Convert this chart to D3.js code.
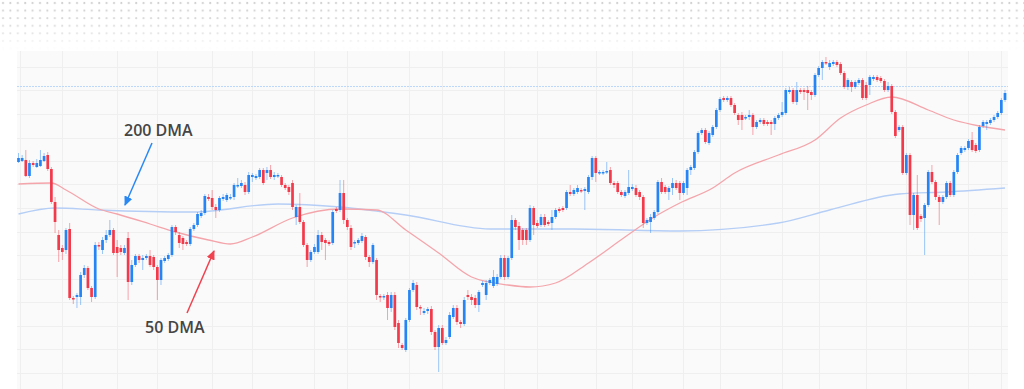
<!DOCTYPE html>
<html>
<head>
<meta charset="utf-8">
<script src="https://cdn.jsdelivr.net/npm/d3@7/dist/d3.min.js"></script>
<style>
  html, body { margin: 0; padding: 0; background: #fff; }
  svg { display: block; }
  .label { font-family: "Open Sans", Lato, sans-serif; font-size: 16px; font-weight: 600; fill: #454545; }
</style>
</head>
<body>
<div id="chart"></div>
<script>
// Candles: [open, high, low, close]
const candles = [
  [238,247,237,242],[239,245,238,242],[240,250,223,224],[224,240,222,237],[237,239,233,235],
  [233,241,232,237],[234,250,233,240],[239,247,238,244],[245,248,229,231],[231,233,196,198],
  [198,203,167,178],[165,170,138,150],[152,155,140,148],[150,172,146,170],[171,177,100,102],
  [102,104,96,101],[103,107,92,105],[103,128,95,125],[125,135,122,132],[132,134,110,112],
  [112,114,98,103],[103,158,101,155],[155,158,150,154],[150,163,146,160],[160,170,157,165],
  [165,180,163,170],[170,172,145,147],[153,160,123,147],[152,155,145,148],[147,155,145,152],
  [162,168,100,118],[118,140,115,135],[135,146,133,144],[144,146,137,140],[140,145,130,142],
  [142,146,140,144],[144,150,133,135],[143,145,130,133],[133,135,100,120],[120,142,115,140],
  [139,144,137,142],[141,147,139,145],[145,175,143,173],
  [173,175,165,168],[165,168,152,157],[162,164,150,156],[158,160,154,156],[156,173,154,171],
  [171,177,169,175],[175,188,173,186],[184,190,182,187],[187,206,185,204],[203,206,199,201],
  [202,210,190,193],[193,196,182,190],[190,204,188,202],[201,206,199,203],[200,207,198,205],
  [202,206,200,203],[203,217,200,215],[214,222,212,215],[214,220,212,217],[215,218,205,208],
  [208,228,206,225],[223,227,218,225],[222,226,220,224],[223,232,221,230],[230,232,215,217],
  [227,233,220,230],[230,235,221,223],[223,228,220,225],[224,227,222,225],[223,225,213,215],
  [215,217,210,212],[213,215,205,208],[217,220,190,193],[183,195,175,193],[193,207,176,178],
  [178,180,153,155],[155,157,133,140],[140,150,138,148],[148,156,146,153],[148,170,146,165],
  [165,168,150,158],[160,162,140,157],[158,160,154,156],[157,190,155,188],
  [191,193,187,189],[190,220,188,207],[207,220,176,180],[180,182,170,173],[172,175,150,153],
  [157,160,152,158],[157,162,155,160],[159,167,157,164],[163,165,140,143],[143,145,133,138],
  [138,157,136,155],[140,142,100,105],[104,106,98,103],[103,106,100,104],[105,108,80,92],
  [92,108,88,105],[105,108,70,73],[77,80,52,57],[55,57,50,52],[50,82,48,80],
  [80,112,78,110],[110,120,108,117],[115,118,90,93],[93,95,85,92],[87,92,85,89],
  [89,93,86,91],[91,94,65,68],[68,70,50,53],[53,75,28,72],[72,75,55,57],
  [57,63,55,60],[63,88,61,85],[83,95,81,92],[92,95,75,78],[78,80,72,76],
  [76,103,74,100],[105,110,100,103],[103,106,95,100],[102,105,92,95],[95,110,88,108],
  [115,119,113,117],[105,120,100,117],[117,122,115,120],[114,130,112,123],
  [116,126,114,123],[123,145,121,142],[142,145,120,123],[123,144,121,142],[142,185,140,180],
  [180,182,170,173],[174,178,150,160],[170,172,155,160],[170,172,155,160],[160,195,158,192],
  [192,194,165,175],[177,180,172,174],[175,186,173,183],[183,186,173,175],[178,180,174,176],
  [177,190,170,183],[183,192,181,190],[191,193,187,189],[192,194,188,190],[192,210,190,208],
  [208,215,204,206],[206,212,204,210],[208,215,206,212],[210,212,207,209],[209,213,190,211],
  [208,225,206,223],[223,244,220,242],[242,244,218,227],[227,230,225,228],[227,230,225,228],
  [228,238,226,229],[230,233,215,217],[217,219,212,215],[217,219,206,208],[208,210,203,205],
  [204,210,202,208],[207,230,205,213],[211,216,209,213],[212,215,203,205],[208,210,200,203],
  [203,205,172,177],[177,182,175,180],[178,186,167,183],[182,190,180,188],[188,220,186,218],
  [218,222,206,208],[213,215,206,208],
  [208,214,200,212],[212,222,205,217],[217,220,210,212],[217,219,200,207],[207,219,205,217],
  [212,232,205,230],[230,235,225,233],[232,250,230,248],[248,269,246,267],[267,272,265,270],
  [270,272,256,258],[257,269,255,267],[265,275,263,273],[273,292,271,290],[290,303,288,301],
  [302,304,298,300],[300,304,298,302],[302,304,293,295],[295,297,285,287],[285,287,275,280],
  [285,288,270,280],[282,285,280,283],[283,290,280,285],[285,287,265,273],[273,280,271,278],
  [278,282,276,280],[280,282,274,276],[278,280,274,276],[278,280,265,276],[276,284,270,282],
  [282,287,280,285],[285,298,283,288],[287,312,285,310],[308,313,306,310],[310,312,296,298],
  [298,318,295,310],[310,312,306,308],[310,312,300,308],[310,314,290,307],[308,310,300,305],
  [305,327,303,325],[325,334,323,332],[332,340,320,338],[338,343,335,337],[333,340,330,337],
  [336,340,334,338],[338,340,333,335],[336,338,325,327],[327,329,311,313],[313,322,310,320],
  [318,320,308,313],[313,320,311,318],[317,322,315,320],[320,322,300,302],[315,318,300,302],
  [315,325,305,323],[321,325,319,323],[323,325,318,320],[322,324,317,319],[319,321,308,310],
  [310,318,308,314],[314,316,286,288],[288,290,262,264],[270,275,268,273],[273,275,225,227],
  [227,247,225,245],[245,247,175,185],[185,207,170,205],[205,225,170,172],[184,186,178,181],
  [182,197,145,195],[195,230,193,228],[228,235,216,218],[218,220,200,203],[203,205,175,198],
  [198,205,196,203],[203,219,201,217],[217,219,203,205],[205,230,203,228],[228,247,226,245],
  [247,254,245,252],[250,254,248,252],[252,261,250,259],[260,268,248,250],[255,257,247,249],
  [250,275,248,273],[274,280,272,278],[276,280,270,278],[277,282,275,280],[280,285,278,283],
  [283,289,281,287],[287,302,285,300],[300,310,298,307]
];

// moving averages sampled at candle index: [index, value]
const dma50 = [
  [0,216],[9,217],[13,210],[22,191],[27,186],[36,176],[43,168],[52,160],[58,156],[64,163],
  [75,182],[88,191],[98,190],[106,170],[115,147],[124,123],[134,115],[140,113],[147,117],
  [156,137],[166,163],[174,183],[181,197],[190,212],[196,227],[208,245],[218,260],[225,282],
  [232,295],[239,303],[249,290],[256,280],[263,274],[270,270]
];
const dma200 = [
  [0,186],[10,192],[22,190],[48,188],[71,196],[88,193],[106,185],[129,171],[152,171],
  [181,169],[208,177],[222,190],[241,206],[254,208],[270,212]
];

const gridCols = [0.5, 12, 27, 38, 53, 64, 81, 90, 107, 116, 133, 142, 158, 168, 182, 192, 209, 219, 232, 243, 260, 269];
const gridRows = [333, 309.5, 286, 262.5, 239, 215.5, 192, 168.5, 145, 121.5, 98, 74.5, 51, 27.5];
const priceLine = 314;

const labels = [
  { text: "200 DMA", x: 124, y: 136, from: [152, 143], to: [125, 205], color: "#2a88f4" },
  { text: "50 DMA", x: 145, y: 333, from: [187, 313], to: [214, 251], color: "#f0424f" }
];

const W = 1024, H = 389;
const UP = "#2585f4", DOWN = "#f23a4b";

const svg = d3.select("#chart").append("svg")
  .attr("width", W).attr("height", H);

const defs = svg.append("defs");
const pat = defs.append("pattern").attr("id", "dots")
  .attr("width", 7.4).attr("height", 7.6).attr("patternUnits", "userSpaceOnUse");
pat.append("circle").attr("cx", 3).attr("cy", 3).attr("r", 1.05).attr("fill", "#c9c9c9");

const fade = defs.append("linearGradient").attr("id", "fade")
  .attr("x1", 0).attr("y1", 0).attr("x2", 0).attr("y2", 1);
fade.append("stop").attr("offset", "0%").attr("stop-color", "#fff").attr("stop-opacity", 1);
fade.append("stop").attr("offset", "60%").attr("stop-color", "#fff").attr("stop-opacity", 0.6);
fade.append("stop").attr("offset", "100%").attr("stop-color", "#fff").attr("stop-opacity", 0);
defs.append("mask").attr("id", "fadeMask").attr("maskUnits", "userSpaceOnUse")
  .append("rect").attr("width", W).attr("height", 50).attr("fill", "url(#fade)");

labels.forEach((d, i) => {
  defs.append("marker").attr("id", "arrow" + i)
    .attr("viewBox", "0 0 10 10").attr("refX", 8).attr("refY", 5)
    .attr("markerWidth", 7).attr("markerHeight", 7).attr("orient", "auto")
    .append("path").attr("d", "M0,1 L9,5 L0,9 Z").attr("fill", d.color);
});

svg.append("rect").attr("width", W).attr("height", H).attr("fill", "#fff");
svg.append("rect").attr("width", W).attr("height", 50)
  .attr("fill", "url(#dots)").attr("mask", "url(#fadeMask)");

// chart panel
const panelL = 17, panelR = 1008, panelT = 51;
svg.append("rect").attr("x", panelL).attr("y", panelT)
  .attr("width", panelR - panelL).attr("height", H - panelT).attr("fill", "#fafafa");

const x = d3.scaleLinear().domain([0, candles.length - 1]).range([18.5, 1005]);
const y = d3.scaleLinear().domain([11, 350]).range([389, 50]);

const grid = svg.append("g").attr("stroke", "#efefef").attr("stroke-width", 1);
grid.selectAll(".gx").data(gridCols).join("line").attr("class", "gx")
  .attr("x1", d => Math.round(x(d)) + 0.5).attr("x2", d => Math.round(x(d)) + 0.5)
  .attr("y1", panelT).attr("y2", H);
grid.selectAll(".gy").data(gridRows).join("line").attr("class", "gy")
  .attr("x1", panelL).attr("x2", panelR)
  .attr("y1", d => Math.round(y(d)) + 0.5).attr("y2", d => Math.round(y(d)) + 0.5);

svg.append("line")
  .attr("x1", panelL).attr("x2", panelR)
  .attr("y1", Math.round(y(priceLine)) + 0.5).attr("y2", Math.round(y(priceLine)) + 0.5)
  .attr("stroke", "#bcd7fb").attr("stroke-width", 1).attr("stroke-dasharray", "2,1");

// moving averages
const line = d3.line().x(d => x(d[0])).y(d => y(d[1])).curve(d3.curveMonotoneX);
svg.append("path").datum(dma200).attr("d", line)
  .attr("fill", "none").attr("stroke", "#b5cef6").attr("stroke-width", 1.3);
svg.append("path").datum(dma50).attr("d", line)
  .attr("fill", "none").attr("stroke", "#f4a5ab").attr("stroke-width", 1.3);

// candles
const bw = 2.7;
const cg = svg.append("g");
const c = cg.selectAll("g").data(candles).join("g");
c.append("line")
  .attr("x1", (d, i) => x(i)).attr("x2", (d, i) => x(i))
  .attr("y1", d => y(d[1])).attr("y2", d => y(d[2]))
  .attr("stroke", d => d[3] >= d[0] ? UP : DOWN)
  .attr("stroke-opacity", 0.45).attr("stroke-width", 1);
c.append("rect")
  .attr("x", (d, i) => x(i) - bw / 2)
  .attr("width", bw)
  .attr("y", d => y(Math.max(d[0], d[3])))
  .attr("height", d => Math.max(1.5, Math.abs(y(d[0]) - y(d[3]))))
  .attr("fill", d => d[3] >= d[0] ? UP : DOWN);

// annotations
labels.forEach((d, i) => {
  svg.append("line")
    .attr("x1", d.from[0]).attr("y1", d.from[1])
    .attr("x2", d.to[0]).attr("y2", d.to[1])
    .attr("stroke", d.color).attr("stroke-width", 1.5)
    .attr("marker-end", `url(#arrow${i})`);
  svg.append("text").attr("class", "label")
    .attr("x", d.x).attr("y", d.y).text(d.text);
});
</script>
</body>
</html>
